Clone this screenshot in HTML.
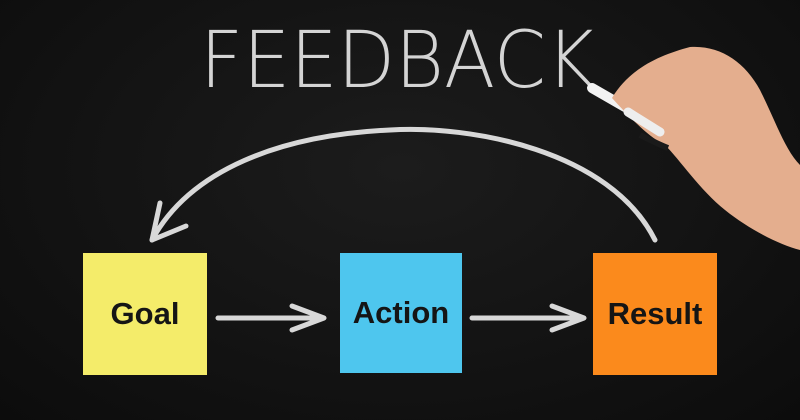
<!DOCTYPE html>
<html><head><style>
html,body{margin:0;padding:0;background:#121212;}
.w{position:relative;width:800px;height:420px;overflow:hidden;background:radial-gradient(ellipse at 50% 40%,#1c1c1c,#0c0c0c);}
.n{position:absolute;display:flex;align-items:center;justify-content:center;font-family:"Liberation Sans",sans-serif;font-weight:bold;font-size:31px;color:#151515;}
</style></head><body><div class="w">
<svg width="800" height="420" style="position:absolute;left:0;top:0">
<text x="200" y="87" font-family="DejaVu Sans,Liberation Sans,sans-serif" font-weight="200" font-size="78" fill="#d4d4d4" textLength="395" lengthAdjust="spacingAndGlyphs">FEEDBACK</text>
<g stroke="#d8d8d8" stroke-width="5" fill="none" stroke-linecap="round" stroke-linejoin="round">
<path d="M655 240 C 610 150, 470 125, 390 130 C 280 135, 190 170, 152 240"/>
<path d="M152 240 L160 203 M152 240 L186 226"/>
<path d="M218 318 L322 318 M292 306 L324 318 L292 330"/>
<path d="M472 318 L582 318 M552 306 L584 318 L552 330"/>
</g>
<path d="M592 88 L625 107" stroke="#f2f2f2" stroke-width="10" stroke-linecap="round"/>
<path d="M612 98 C 630 68, 660 55, 690 47 C 720 45, 745 62, 760 90 C 775 120, 785 150, 800 165 L800 250 C 780 245, 750 230, 725 210 C 700 190, 680 160, 665 145 C 650 138, 630 118, 612 98 Z" fill="#e4ae8e"/>
<path d="M628 112 L660 132" stroke="#eeeeee" stroke-width="9" stroke-linecap="round"/>
<path d="M640 135 C 650 140, 660 145, 668 148" stroke="#1a1a1a" stroke-width="6" fill="none"/>
</svg>
<div class="n" style="left:83px;top:253px;width:124px;height:122px;background:#f4ec6a;">Goal</div>
<div class="n" style="left:340px;top:253px;width:122px;height:120px;background:#4ec6ee;">Action</div>
<div class="n" style="left:593px;top:253px;width:124px;height:122px;background:#fb8a1c;">Result</div>
</div></body></html>
